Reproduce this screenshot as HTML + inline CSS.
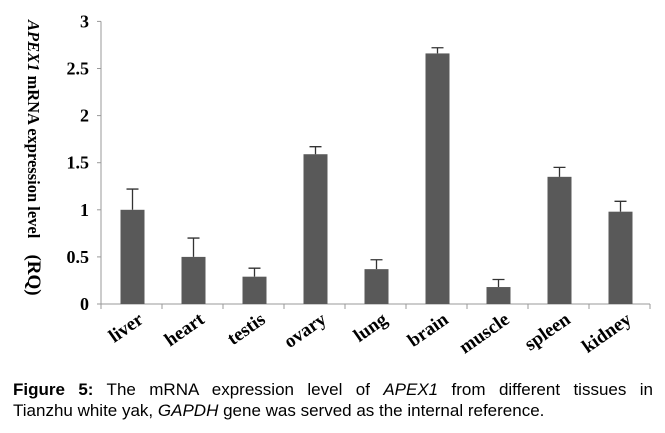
<!DOCTYPE html>
<html><head><meta charset="utf-8"><style>
body{margin:0;background:#fff;width:665px;height:433px;overflow:hidden}
.cap{position:absolute;left:13px;width:640px;font:17px/21px "Liberation Sans",sans-serif;color:#000;white-space:nowrap}
#cap1{top:379px;text-align:justify;text-align-last:justify}
#cap2{top:400px}
</style></head><body>
<svg id="chart" width="665" height="375" style="position:absolute;left:0;top:0" font-family="Liberation Serif, serif"></svg>
<div id="cap1" class="cap"><b>Figure 5:</b> The mRNA expression level of <i>APEX1</i> from different tissues in</div>
<div id="cap2" class="cap">Tianzhu white yak, <i>GAPDH</i> gene was served as the internal reference.</div>
<script>
const categories=["liver","heart","testis","ovary","lung","brain","muscle","spleen","kidney"];
const values=[1.0,0.5,0.29,1.59,0.37,2.66,0.18,1.35,0.98];
const errors=[0.22,0.2,0.09,0.08,0.1,0.06,0.08,0.1,0.11];
const yTicks=[0,0.5,1,1.5,2,2.5,3];
const yTickLabels=["0","0.5","1","1.5","2","2.5","3"];
const svg=document.getElementById('chart');
const NS='http://www.w3.org/2000/svg';
const x0=101,step=61,y0=304,ppu=94.2,bw=24;
const y=v=>y0-v*ppu;
const xc=i=>x0+step*i+step/2+1;
function mk(t,a,p){const e=document.createElementNS(NS,t);for(const k in a)e.setAttribute(k,a[k]);(p||svg).appendChild(e);return e;}
let ax=mk('line',{x1:x0,y1:y(3),x2:x0,y2:y0,stroke:'#999','stroke-width':1});


let bx=mk('line',{x1:x0,y1:y0,x2:x0+step*categories.length,y2:y0,stroke:'#999','stroke-width':1});


yTicks.forEach((t,i)=>{
 let l=mk('line',{x1:x0-4,y1:y(t),x2:x0,y2:y(t),stroke:'#999'});
 
 
 let tx=mk('text',{x:x0-12,y:y(t)+6,'text-anchor':'end','font-size':18,'font-weight':'bold'});
 tx.textContent=yTickLabels[i];
 
 
});
for(let i=0;i<=categories.length;i++){
 let l=mk('line',{x1:x0+step*i,y1:y0,x2:x0+step*i,y2:y0+5,stroke:'#999'});
 
 
}
categories.forEach((c,i)=>{
 const cx=xc(i);
 let r=mk('rect',{x:cx-bw/2,y:y(values[i]),width:bw,height:values[i]*ppu,fill:'#595959'});
 
 
 const top=y(values[i]+errors[i]);
 let g=mk('path',{d:`M${cx} ${y(values[i])}V${top}M${cx-6} ${top}H${cx+6}`,stroke:'#333','stroke-width':1.3,fill:'none'});
 
 
 let t=mk('text',{x:cx+12,y:322,'text-anchor':'end','font-size':19,'font-weight':'bold',transform:`rotate(-35 ${cx+12} 322)`});
 t.textContent=c;
 
 
});
let yt=mk('text',{x:0,y:0,transform:'translate(28,20) rotate(90)','font-size':16.5,'font-weight':'bold'});
yt.innerHTML='<tspan font-style="italic">APEX1</tspan> mRNA expression level <tspan font-size="19" dx="12">(RQ)</tspan>';


</script>
</body></html>
